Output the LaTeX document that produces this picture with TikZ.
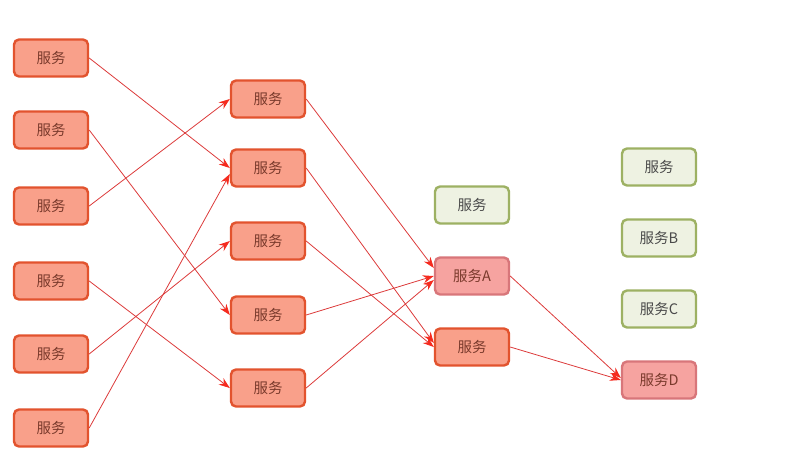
\documentclass[tikz,border=0pt]{standalone}
\usepackage{fontspec}
\setmainfont{Noto Sans CJK SC}
\usepackage{tikz}
\usetikzlibrary{arrows.meta,calc}
\usetikzlibrary{positioning}

\definecolor{svcfill}{HTML}{F9A08A}
\definecolor{svcline}{HTML}{E2532E}
\definecolor{svctext}{HTML}{7A3A2C}
\definecolor{hotfill}{HTML}{F6A3A0}
\definecolor{hotline}{HTML}{D8767A}
\definecolor{idlefill}{HTML}{EEF2E2}
\definecolor{idleline}{HTML}{9DB163}
\definecolor{idletext}{HTML}{4A4A4A}
\definecolor{callred}{HTML}{DC3A3A}
\definecolor{tipred}{HTML}{F52A1E}

\begin{document}
\begin{tikzpicture}[
      x=1pt, y=-1pt, font=\fontsize{14.5pt}{16pt}\selectfont,
      >={Stealth[length=11pt,width=8pt,color=tipred]},
      svc/.style={rectangle, rounded corners=5pt, draw=svcline, fill=svcfill, text=svctext,
                  line width=2.4pt, minimum width=74pt, minimum height=37pt, inner sep=0pt},
      hot/.style={svc, draw=hotline, fill=hotfill},
      idle/.style={svc, draw=idleline, fill=idlefill, text=idletext},
      call/.style={->, draw=callred, line width=0.8pt}]

      \useasboundingbox (0,0) rectangle (789,469);

      % Nodes
      \node[svc] (l1) at (51,58)  {服务};
      \node[svc] (l2) at (51,130) {服务};
      \node[svc] (l3) at (51,206) {服务};
      \node[svc] (l4) at (51,281) {服务};
      \node[svc] (l5) at (51,354) {服务};
      \node[svc] (l6) at (51,428) {服务};

      \node[svc] (m1) at (268,99)  {服务};
      \node[svc] (m2) at (268,168) {服务};
      \node[svc] (m3) at (268,241) {服务};
      \node[svc] (m4) at (268,315) {服务};
      \node[svc] (m5) at (268,388) {服务};

      \node[idle] (g1) at (472,205) {服务};
      \node[hot]  (sa) at (472,276) {服务A};
      \node[svc]  (s3) at (472,347) {服务};

      \node[idle] (g2) at (659,167) {服务};
      \node[idle] (sb) at (659,238) {服务B};
      \node[idle] (sc) at (659,309) {服务C};
      \node[hot]  (sd) at (659,380) {服务D};

      % Edges
      \path (l1.east) edge[call] (m2.west)
            (l2.east) edge[call] (m4.west)
            (l3.east) edge[call] (m1.west)
            (l4.east) edge[call] (m5.west)
            (l5.east) edge[call] (m3.west)
            (l6.east) edge[call] ($(m2.west)+(0,6)$)
            (m1.east) edge[call] ($(sa.west)+(0,-8)$)
            (m4.east) edge[call] (sa.west)
            (m5.east) edge[call] ($(sa.west)+(0,4)$)
            (m2.east) edge[call] ($(s3.west)+(0,-4)$)
            (m3.east) edge[call] (s3.west)
            (sa.east) edge[call] ($(sd.west)+(0,-2)$)
            (s3.east) edge[call] (sd.west);

    \end{tikzpicture}
\end{document}
